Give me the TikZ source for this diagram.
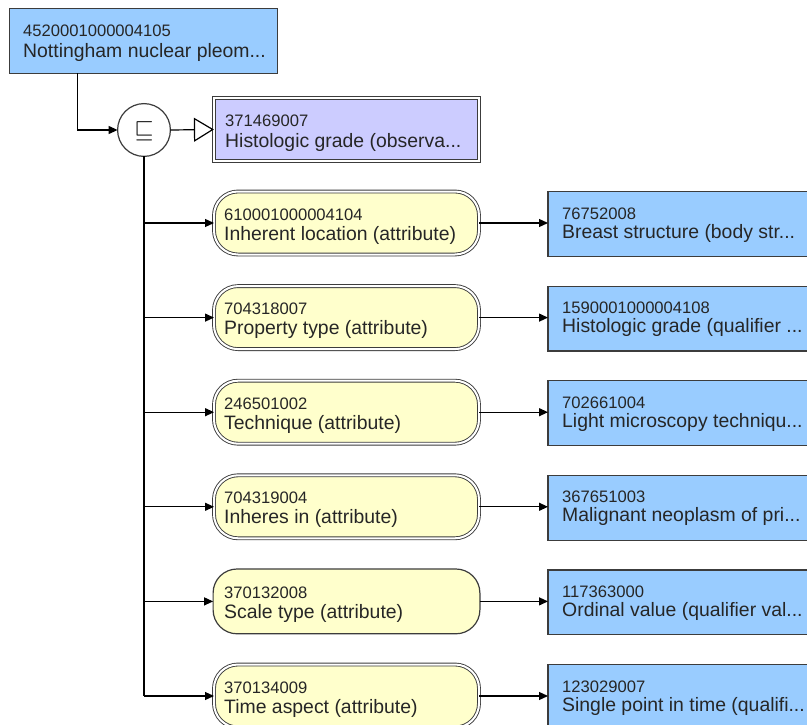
\documentclass[tikz,border=0pt]{standalone}
\usepackage{fontspec}
\setmainfont{Liberation Sans}
\usetikzlibrary{arrows.meta}
\definecolor{conceptblue}{RGB}{153,204,255}
\definecolor{attryellow}{RGB}{255,255,204}
\definecolor{defpurple}{RGB}{204,204,255}
\definecolor{edgegray}{RGB}{60,60,60}
\definecolor{innergray}{RGB}{110,110,110}
\newcommand{\idfont}{\fontsize{16.6}{18}\selectfont}
\newcommand{\namefont}{\fontsize{19.4}{22}\selectfont}
\newcommand{\tdots}{...}
\begin{document}
\begin{tikzpicture}[x=1pt,y=-1pt,
  concept/.style={draw=edgegray, fill=conceptblue, line width=1.2pt, rectangle, inner sep=0pt, outer sep=0pt},
  defbox/.style={draw=edgegray, fill=defpurple, rectangle, line width=0.9pt, double=white, double distance=2pt, inner sep=0pt, outer sep=0pt, minimum width=265.2pt, minimum height=63.2pt},
  attr/.style={draw=edgegray, fill=attryellow, rectangle, rounded corners=24pt, line width=1.2pt, inner sep=0pt, outer sep=0pt, minimum width=266.8pt, minimum height=64.8pt},
  attrdbl/.style={attr, line width=0.9pt, double=white, double distance=2pt, minimum width=265pt, minimum height=63pt},
  opnode/.style={circle, draw=edgegray, fill=white, line width=1.2pt, minimum size=52.8pt, inner sep=0pt, outer sep=0pt},
  idtxt/.style={anchor=base west, inner sep=0pt, font=\idfont, text=black!85},
  nametxt/.style={anchor=base west, inner sep=0pt, font=\namefont, text=black!85},
  conn/.style={draw=black, line width=1.2pt, -{Triangle[length=9pt, width=8pt]}},
  plain/.style={draw=black, line width=1.2pt},
]
\clip (0,0) rectangle (807,725);
\fill[white] (0,0) rectangle (807,725);

% focus concept
\node[concept, minimum width=267.8pt, minimum height=64.8pt] (top) at (143.5,41) {};
\node[idtxt] (topid) at (23,37) {4520001000004105};
\node[nametxt] (topname) at (23,58) {Nottingham nuclear pleom...};

% subsumption operator
\node[opnode] (sub) at (144,130) {};
\node[inner sep=0pt, font=\fontsize{26}{26}\selectfont] (subsym) at (144,131) {$\sqsubseteq$};

% parent (defining) concept
\node[defbox] (def) at (346.5,129.5) {};
\node[idtxt] (defid) at (225,127) {371469007};
\node[nametxt] (defname) at (225,147) {Histologic grade (observa...};

\draw[conn] ([xshift=68pt]top.south west) |- (sub.west);
\draw[plain, -{Triangle[open, fill=white, length=20pt, width=24pt, line width=1.2pt]}] (sub.east) -- (def.west);

% attribute rows
\foreach \i/\c/\ida/\na/\idb/\nb/\sty in {
  1/223/610001000004104/Inherent location (attribute)/76752008/Breast structure (body str\tdots/attrdbl,
  2/317.6/704318007/Property type (attribute)/1590001000004108/Histologic grade (qualifier \tdots/attrdbl,
  3/412.2/246501002/Technique (attribute)/702661004/Light microscopy techniqu\tdots/attrdbl,
  4/506.8/704319004/Inheres in (attribute)/367651003/Malignant neoplasm of pri\tdots/attrdbl,
  5/601.4/370132008/Scale type (attribute)/117363000/Ordinal value (qualifier val\tdots/attr,
  6/696/370134009/Time aspect (attribute)/123029007/Single point in time (qualifi\tdots/attrdbl}{
  \node[\sty] (a\i) at (346.5,\c) {};
  \node[idtxt] (a\i id) at (224,\c-3) {\ida};
  \node[nametxt] (a\i name) at (224,\c+17) {\na};
  \node[concept, minimum width=280pt, minimum height=64.8pt] (v\i) at (688,\c+1) {};
  \node[idtxt] (v\i id) at (562,\c-4) {\idb};
  \node[nametxt] (v\i name) at (562,\c+15) {\nb};
  \draw[conn] (a\i.east) -- (a\i.east -| v\i.west);
}

\draw[plain] (sub.south) -- (sub.south |- a6.west);
\foreach \i in {1,...,6}{
  \draw[conn] (sub.south |- a\i.west) -- (a\i.west);
}
\end{tikzpicture}
\end{document}
